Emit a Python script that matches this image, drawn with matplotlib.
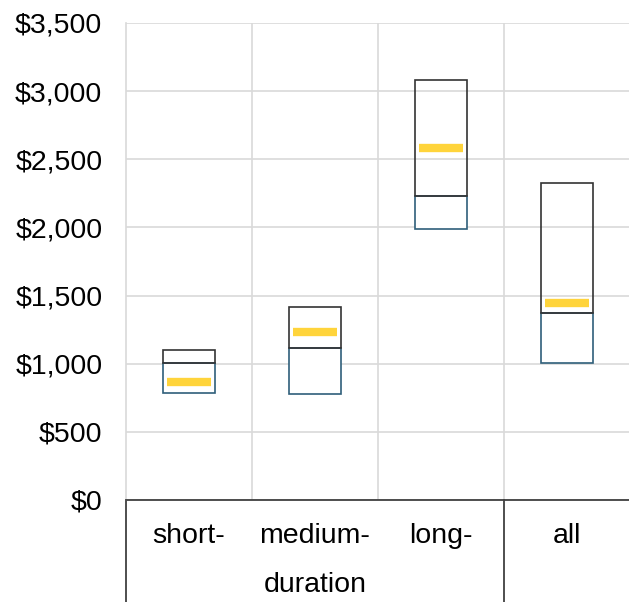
import matplotlib.pyplot as plt
from matplotlib.transforms import blended_transform_factory
from matplotlib.ticker import FuncFormatter

plt.rcParams['font.family'] = ['Liberation Sans', 'DejaVu Sans']

categories = ['short-', 'medium-', 'long-', 'all']
low = [787, 778, 1986, 1003]      # bottom of the lower box
mid = [1003, 1115, 2233, 1370]    # split between the two boxes
high = [1100, 1416, 3081, 2324]   # top of the upper box
mean = [868, 1233, 2580, 1448]    # yellow marker

fig = plt.figure(figsize=(6.29, 6.02), dpi=100)
ax = fig.add_axes([126 / 629, 102 / 602, 504 / 629, 477 / 602])

xs = [i + 0.5 for i in range(len(categories))]
w = 0.41

# lower box, then upper box on top of it
ax.bar(xs, [m - l for l, m in zip(low, mid)], w, bottom=low,
       facecolor='white', edgecolor='#2F5F7A', linewidth=1.2, zorder=3)
ax.bar(xs, [h - m for m, h in zip(mid, high)], w, bottom=mid,
       facecolor='none', edgecolor='#333333', linewidth=1.2, zorder=4)
for x, m in zip(xs, mean):
    ax.plot([x - 0.175, x + 0.175], [m, m], color='#FFD43B', lw=6,
            solid_capstyle='butt', zorder=5)

ax.set_xlim(0, 4)
ax.set_ylim(0, 3500)
ax.set_yticks(range(0, 3501, 500))
ax.yaxis.set_major_formatter(FuncFormatter(lambda v, p: '${:,.0f}'.format(v)))
ax.tick_params(axis='y', length=0, pad=17, labelsize=20.5)
ax.set_xticks([1, 2, 3])
ax.tick_params(axis='x', length=0, labelbottom=False)
ax.grid(True, color='#D9D9D9', linewidth=1.2, zorder=0)
ax.set_axisbelow(True)
for s in ['top', 'right', 'bottom']:
    ax.spines[s].set_visible(False)
ax.spines['left'].set_color('#D9D9D9')
ax.spines['left'].set_linewidth(1.2)

# two-level category axis below the plot
tr = blended_transform_factory(ax.transData, ax.transAxes)
ax.plot([0, 4], [0, 0], color='#404040', lw=1.3, transform=tr, clip_on=False, zorder=6)
for x in [0, 3]:
    ax.plot([x, x], [0, -0.22], color='#404040', lw=1.3, transform=tr, clip_on=False)
for x, c in zip(xs, categories):
    ax.text(x, -0.075, c, transform=tr, ha='center', va='center', fontsize=20.5)
ax.text(1.5, -0.178, 'duration', transform=tr, ha='center', va='center', fontsize=20.5)

fig.savefig('out.png', dpi=100)
